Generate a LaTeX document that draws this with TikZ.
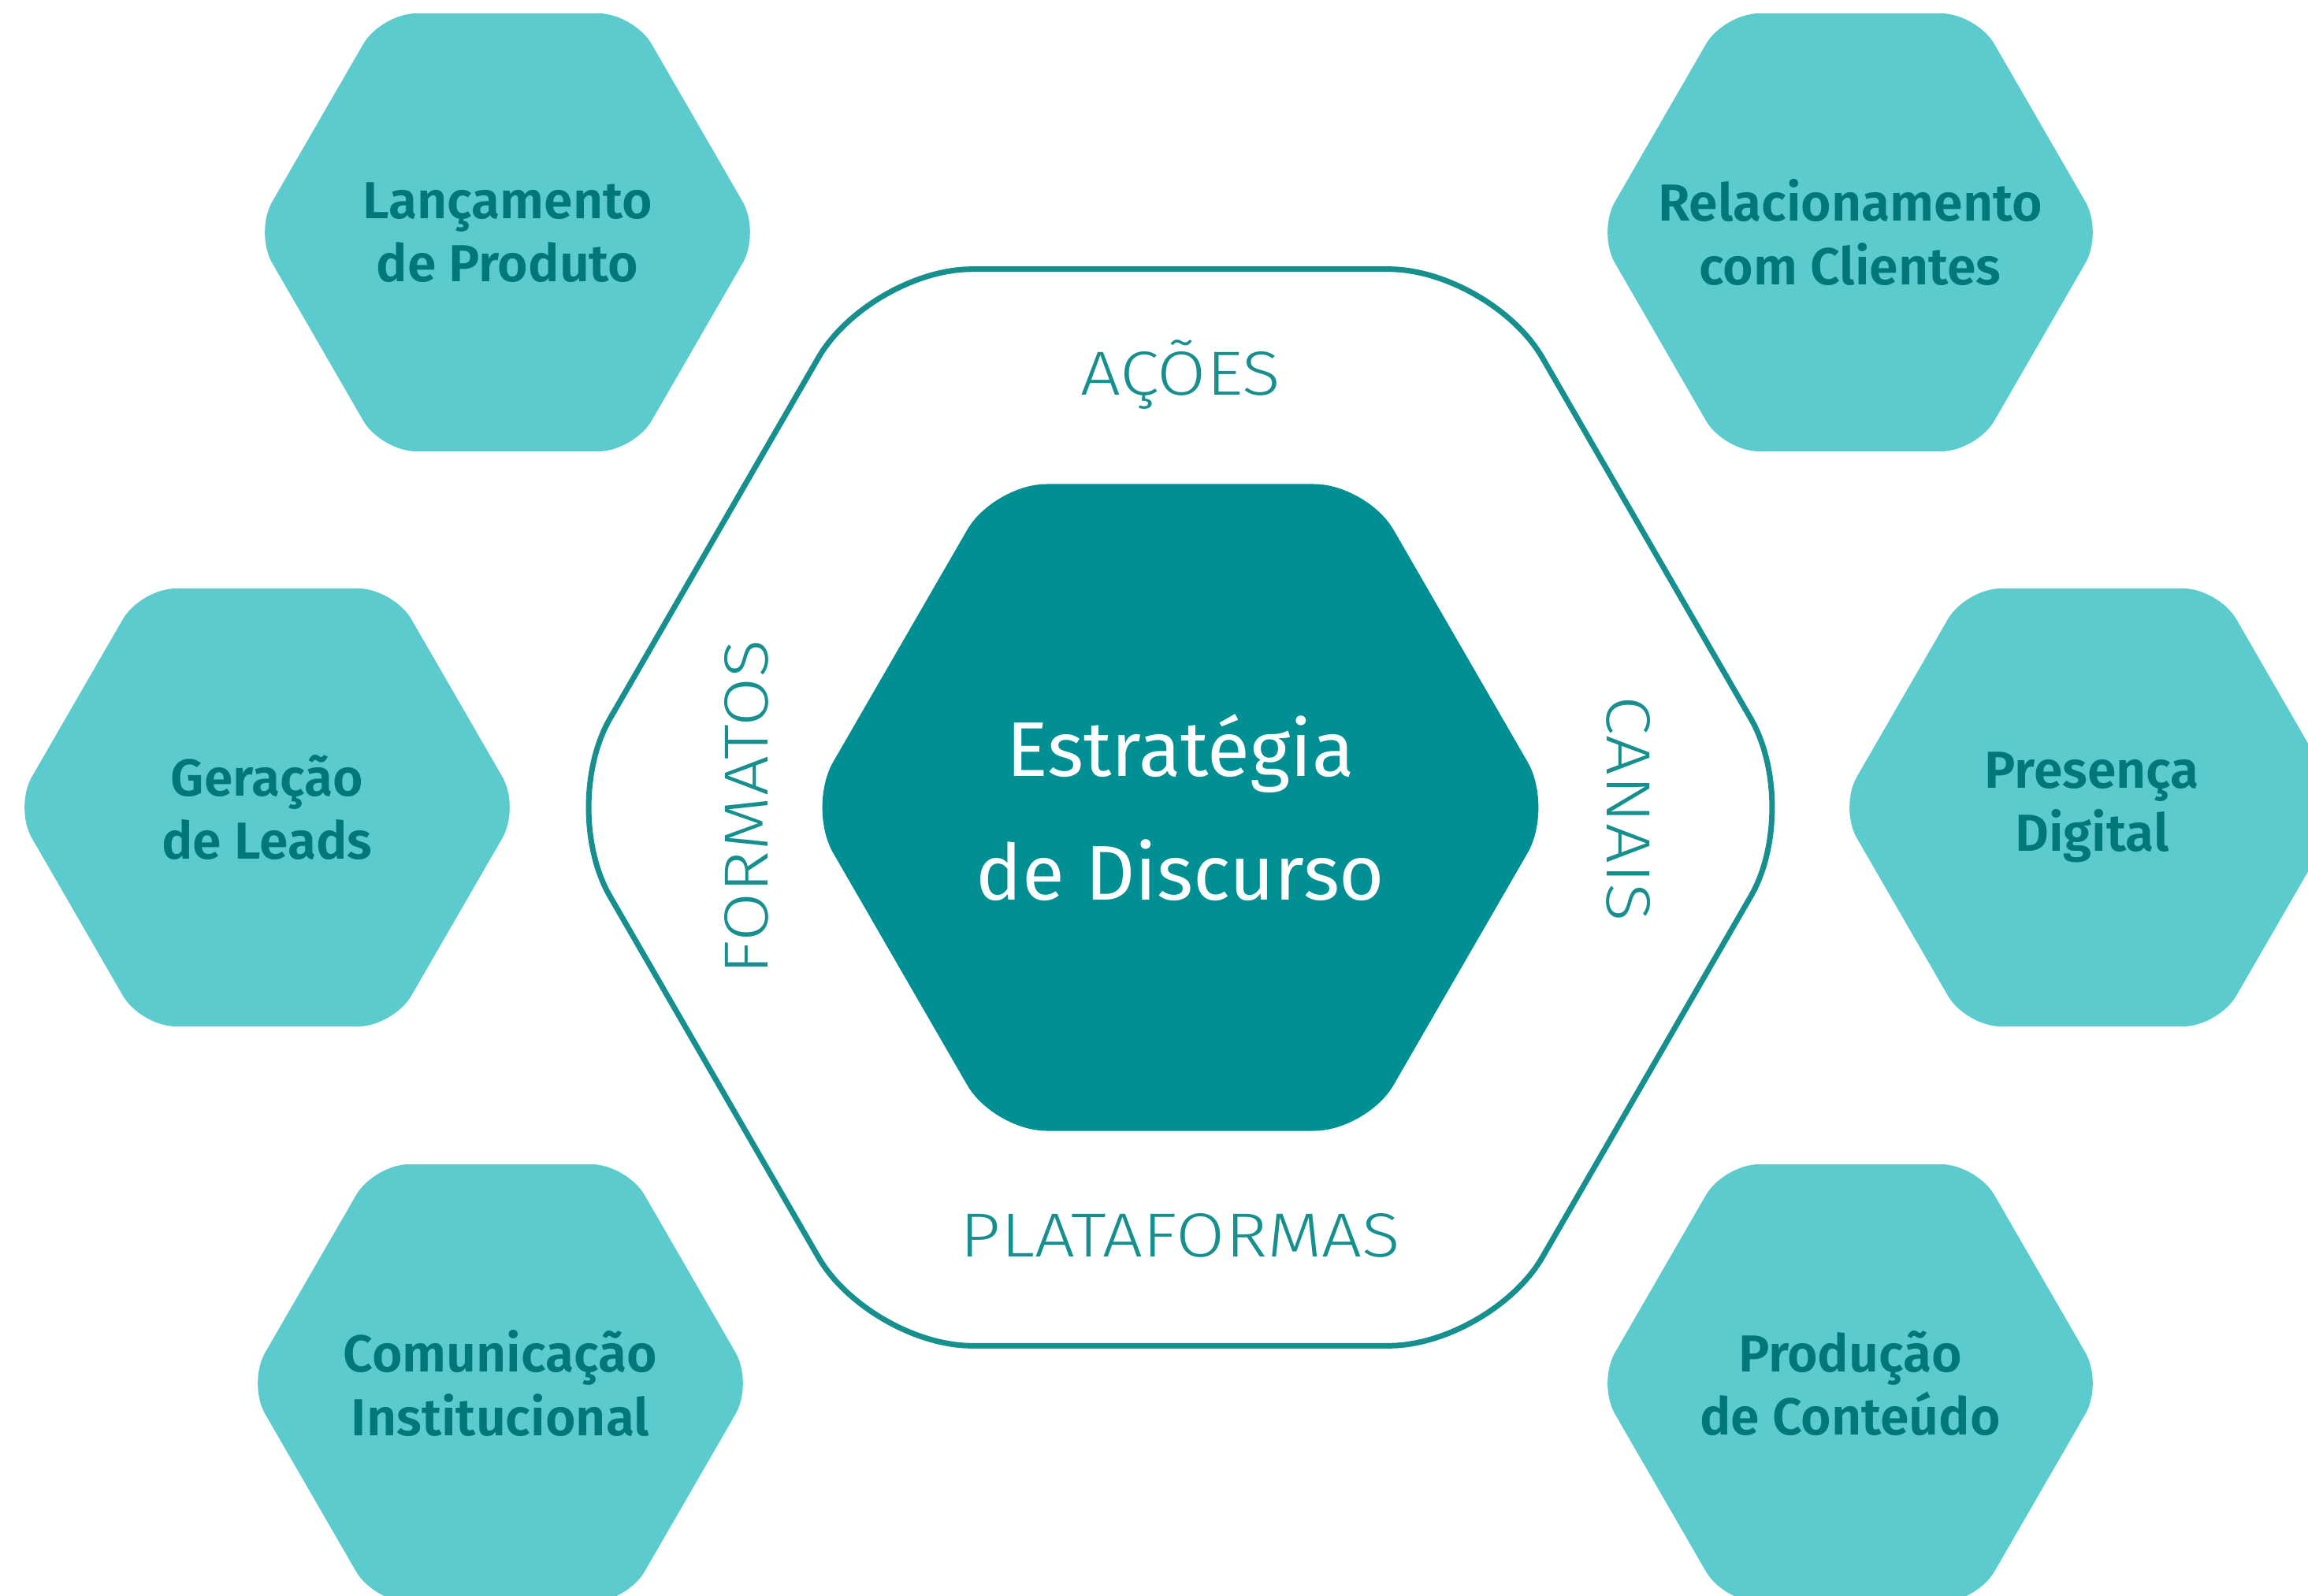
\documentclass[tikz,border=0pt]{standalone}
\usepackage{fontspec}
\setmainfont{Fira Sans}
\newfontfamily\lightfont{Fira Sans Light}[FakeStretch=1.14]
\newfontfamily\semibfont{Fira Sans SemiBold}
\usepackage{tikz}
\usetikzlibrary{shapes.geometric}

\definecolor{hexlight}{HTML}{5BCBCE}
\definecolor{hextext}{HTML}{00777A}
\definecolor{hexcore}{HTML}{008F93}
\definecolor{hexline}{HTML}{16908F}

\tikzset{
  hexbase/.style={regular polygon, regular polygon sides=6, inner sep=-1.5cm},
  outerhex/.style={hexbase, minimum size=15.78cm, draw=hexline, line width=2pt, rounded corners=1.3cm},
  corehex/.style={hexbase, minimum size=9.48cm, fill=hexcore, rounded corners=0.67cm,
    text=white, align=center, font=\fontsize{28}{44.7}\selectfont},
  sidehex/.style={hexbase, minimum size=6.42cm, fill=hexlight, rounded corners=0.45cm,
    text=hextext, align=center, font=\semibfont\fontsize{18.8}{22.8}\selectfont},
  ringlabel/.style={text=hexline, inner sep=0pt, anchor=base, font=\lightfont\fontsize{22.5}{27}\selectfont}
}

\begin{document}
\begin{tikzpicture}
    \useasboundingbox (-14.98,-10.01) rectangle (14.31,10.25);
    \node [outerhex] (ring) at (0,0) {}; % Outer ring
    \node [corehex] (core) at (0,0) {Estratégia\\de Discurso}; % Centre
    \node [ringlabel] (acoes) at (0,5.23) {AÇÕES};
    \node [ringlabel] (plataformas) at (0,-5.70) {PLATAFORMAS};
    \node [ringlabel, rotate=90] (formatos) at (-5.23,0) {FORMATOS};
    \node [ringlabel, rotate=-90] (canais) at (5.41,-0.02) {CANAIS};
    \node [sidehex] (lancamento) at (-8.54,7.30) {Lançamento\\de Produto};
    \node [sidehex] (relacionamento) at (8.50,7.30) {Relacionamento\\com Clientes};
    \node [sidehex] (geracao) at (-11.59,0) {Geração\\de Leads};
    \node [sidehex] (presenca) at (11.57,0) {Presença\\Digital};
    \node [sidehex] (comunicacao) at (-8.63,-7.31) {Comunicação\\Institucional};
    \node [sidehex] (producao) at (8.50,-7.31) {Produção\\de Conteúdo};
\end{tikzpicture}
\end{document}
